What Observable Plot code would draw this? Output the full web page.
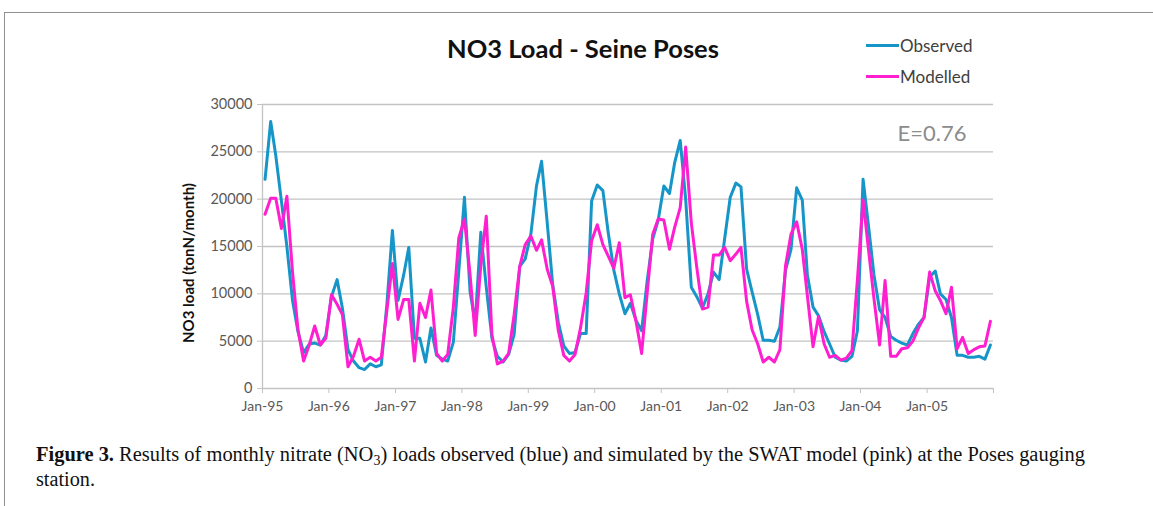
<!DOCTYPE html>
<html><head><meta charset="utf-8">
<script src="https://cdn.jsdelivr.net/npm/d3@7"></script>
<script src="https://cdn.jsdelivr.net/npm/@observablehq/plot@0.6"></script>
<style>
html,body{margin:0;padding:0;background:#fff;}
#page{position:relative;width:1153px;height:506px;overflow:hidden;font-family:Lato,"Open Sans",sans-serif;}
#frame{position:absolute;left:4px;top:12px;width:1160px;height:510px;border-top:1.5px solid #8f8f8f;border-left:1.5px solid #8f8f8f;}
#title{position:absolute;left:583px;top:33px;transform:translateX(-50%);font-weight:700;font-size:25.5px;color:#111;white-space:nowrap;}
.leg{position:absolute;left:866px;height:20px;display:flex;align-items:center;font-size:17px;color:#404040;white-space:nowrap;}
.leg .sw{display:inline-block;width:33px;height:3px;margin-right:1px;}
#ylab{position:absolute;left:188px;top:263px;transform:translate(-50%,-50%) rotate(-90deg);font-weight:700;font-size:15px;white-space:nowrap;color:#111;}
#chart{position:absolute;left:0;top:90px;}
#caption{position:absolute;left:0;top:430px;}
</style></head>
<body>
<div id="page">
  <div id="frame"></div>
  <div id="title"></div>
  <div class="leg" id="leg0" style="top:35px"></div>
  <div class="leg" id="leg1" style="top:66px"></div>
  <div id="ylab"></div>
  <div id="chart"></div>
  <svg id="caption" width="1153" height="76" style="font-family:'Liberation Serif','DejaVu Serif',serif;font-size:20.5px;fill:#111">
    <text x="36" y="31" textLength="1049" lengthAdjust="spacingAndGlyphs"><tspan font-weight="bold">Figure 3.</tspan> Results of monthly nitrate (NO<tspan dy="4" font-size="14">3</tspan><tspan dy="-4">) loads observed (blue) and simulated by the SWAT model (pink) at the Poses gauging</tspan></text>
    <text x="36" y="56" textLength="59" lengthAdjust="spacingAndGlyphs">station.</text>
  </svg>
</div>
<script>
const titleText = "NO3 Load - Seine Poses";
const yLabel = "NO3 load (tonN/month)";
const seriesNames = ["Observed", "Modelled"];
const seriesColors = ["#1696c8", "#ff1fd1"];
const efficiencyLabel = ["E=0.76"];
const startYear = 1995;
const xTickYears = [1995,1996,1997,1998,1999,2000,2001,2002,2003,2004,2005,2006];
const xTickLabels = ["Jan-95","Jan-96","Jan-97","Jan-98","Jan-99","Jan-00","Jan-01","Jan-02","Jan-03","Jan-04","Jan-05",""];
const yTicks = [0,5000,10000,15000,20000,25000,30000];

// Monthly loads, Jan-95 .. Dec-05 (tonN/month)
const observed = [
  22100,28200,24600,19800,15000,9300,6000,3800,4700,4800,4600,5600,
  9700,11500,8500,4100,2900,2200,2000,2600,2300,2500,9000,16700,
  9300,12000,14900,5300,5300,2800,6400,3500,3100,2900,4900,12400,
  20200,10200,7000,16500,10700,5300,3400,2800,3600,5700,12900,13700,
  16300,21400,24000,17500,11000,7000,4500,3700,3800,5800,5800,19800,
  21500,20900,16500,12500,10000,7900,9000,7200,6100,11300,15800,17800,
  21400,20600,23800,26200,20000,10700,9700,8500,10000,12300,11500,15800,
  20200,21700,21300,12600,10200,7800,5100,5100,5000,6500,12500,14700,
  21200,19900,12000,8600,7700,6000,4700,3300,3000,2900,3400,6100,
  22100,17000,12000,8300,7500,5500,5100,4800,4600,5800,6800,7500,
  11800,12400,10000,9400,7500,3500,3500,3300,3300,3400,3100,4600
];
const modelled = [
  18400,20100,20100,16900,20300,12300,6200,2900,4600,6600,4600,5300,
  9900,8900,7800,2300,3400,5200,2900,3300,2900,3300,8300,13200,
  7300,9400,9400,2900,9000,7500,10400,3700,2900,3600,8600,15900,
  17900,12000,5600,13000,18200,5700,2600,2900,3700,7800,12900,15200,
  16100,14600,15700,12600,10800,6100,3500,2900,3600,6400,10100,15600,
  17300,15200,14000,12700,15400,9600,9900,7100,3700,10000,16300,17900,
  17800,14700,17000,19100,25500,17500,12800,8400,8600,14100,14100,14900,
  13500,14200,14900,9200,6200,4700,2800,3300,2800,4100,13000,16300,
  17600,14700,9800,4400,7600,4700,3300,3500,3000,3200,4000,11500,
  19900,14500,9500,4600,11400,3400,3400,4200,4300,5000,6400,7500,
  12300,10300,9300,7900,10700,4200,5400,3700,4100,4400,4500,7100
];

const rows = observed.map((v, i) => ({
  date: new Date(Date.UTC(startYear, i, 15)),
  observed: v,
  modelled: modelled[i]
}));
const tickDates = xTickYears.map(y => new Date(Date.UTC(y, 0, 1)));
const labelByYear = new Map(xTickYears.map((y, i) => [y, xTickLabels[i]]));

document.getElementById("title").textContent = titleText;
document.getElementById("ylab").textContent = yLabel;
seriesNames.forEach((name, i) => {
  const el = document.getElementById("leg" + i);
  el.innerHTML = `<span class="sw" style="background:${seriesColors[i]}"></span><span>${name}</span>`;
});

const grid = "#c3c3c3";
const chart = Plot.plot({
  width: 1153,
  height: 330,
  marginLeft: 262,
  marginRight: 160,
  marginTop: 14,
  marginBottom: 32,
  style: {fontFamily: "Lato, 'Open Sans', sans-serif", background: "transparent"},
  x: {type: "utc", domain: [tickDates[0], tickDates[tickDates.length - 1]]},
  y: {domain: [0, 30000]},
  marks: [
    Plot.gridY(yTicks, {stroke: grid, strokeOpacity: 1, strokeWidth: 1.3}),
    Plot.ruleX([tickDates[0]], {y1: 0, y2: 30000, stroke: grid, strokeWidth: 1.3}),
    Plot.axisY(yTicks, {tickSize: 5, tickPadding: 5, stroke: grid, fill: "#595959", fontSize: 14.5, tickFormat: d => String(d), label: null}),
    Plot.axisX(tickDates, {tickSize: 5, tickPadding: 8, stroke: grid, fill: "#595959", fontSize: 14, tickFormat: d => labelByYear.get(d.getUTCFullYear()) ?? "", label: null}),
    Plot.line(rows, {x: "date", y: "observed", stroke: seriesColors[0], strokeWidth: 3, strokeLinejoin: "round"}),
    Plot.line(rows, {x: "date", y: "modelled", stroke: seriesColors[1], strokeWidth: 3, strokeLinejoin: "round"}),
    Plot.text(efficiencyLabel, {frameAnchor: "top-right", dx: -27, dy: 29, textAnchor: "end", lineAnchor: "middle", fontSize: 22, fill: "#8c8c8c"})
  ]
});
document.getElementById("chart").appendChild(chart);
</script>
</body></html>
